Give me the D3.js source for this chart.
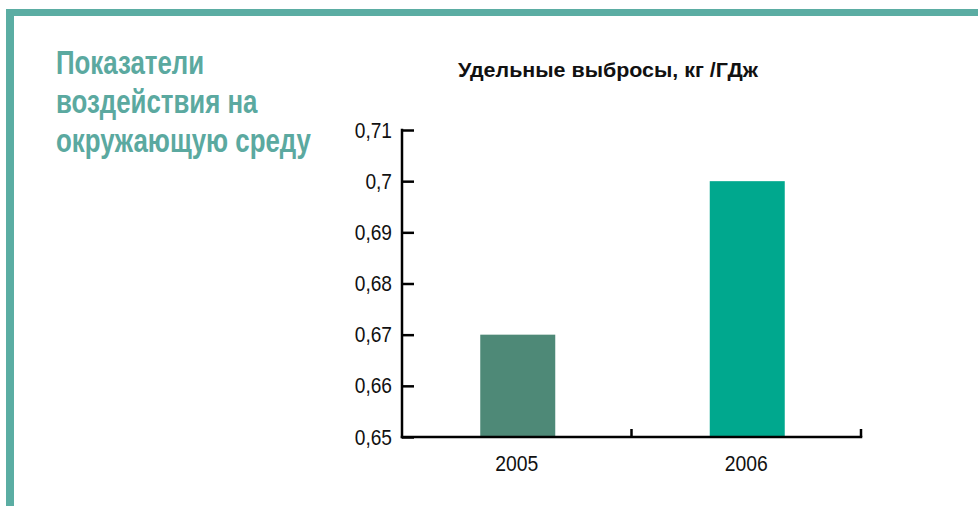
<!DOCTYPE html>
<html><head><meta charset="utf-8">
<script src="https://cdn.jsdelivr.net/npm/d3@7"></script>
<style>html,body{margin:0;padding:0;background:#fff;}</style>
</head><body>
<svg id="c" width="978" height="506"></svg>
<script>
const categories = ["2005", "2006"];
const values = [0.67, 0.70];
const barColors = ["#4E8977", "#00A88E"];
const yTicks = [0.65, 0.66, 0.67, 0.68, 0.69, 0.70, 0.71];
const titleLines = ["Показатели", "воздействия на", "окружающую среду"];
const chartTitle = "Удельные выбросы, кг /ГДж";

const svg = d3.select("#c");
const teal = "#5BADA3";
const font = "'Liberation Sans',Arial,sans-serif";

function squeeze(sel, factor) {
  sel.each(function () {
    const w = this.getComputedTextLength();
    d3.select(this).attr("textLength", w * factor).attr("lengthAdjust", "spacingAndGlyphs");
  });
}

// frame
svg.append("rect").attr("x", 6).attr("y", 9).attr("width", 972).attr("height", 7).attr("fill", teal);
svg.append("rect").attr("x", 6).attr("y", 9).attr("width", 8).attr("height", 497).attr("fill", teal);

// left heading (condensed via horizontal scale)
const hg = svg.append("g");
const head = hg.selectAll("text").data(titleLines).join("text")
  .attr("x", 0).attr("y", (d, i) => 74 + i * 39)
  .attr("fill", "#5BA9A0")
  .style("font-family", font)
  .style("font-weight", "bold").style("font-size", "33.5px")
  .text(d => d);
const hw = head.nodes()[2].getComputedTextLength();
hg.attr("transform", `translate(56,0) scale(${255 / hw},1)`);

// chart title
const tg = svg.append("g");
const t = tg.append("text").attr("x", 0).attr("y", 77)
  .style("font-family", font)
  .style("font-weight", "bold").style("font-size", "21px").attr("fill", "#111")
  .text(chartTitle);
tg.attr("transform", `translate(458,0) scale(${300 / t.node().getComputedTextLength()},1)`);

const x0 = 402, x1 = 861, yTop = 130, yBot = 437;
const x = d3.scaleBand().domain(categories).range([x0, x1]).padding(0);
const y = d3.scaleLinear().domain([0.65, 0.71]).range([yBot, yTop]);

// bars
const bw = 75;
svg.append("g").selectAll("rect").data(categories).join("rect")
  .attr("x", (d) => x(d) + x.bandwidth() / 2 - bw / 2 + 1)
  .attr("width", bw)
  .attr("y", (d, i) => y(values[i]))
  .attr("height", (d, i) => y(0.65) - y(values[i]))
  .attr("fill", (d, i) => barColors[i]);

// y axis
const yAxis = d3.axisLeft(y).tickValues(yTicks).tickSize(-12).tickPadding(10)
  .tickFormat(v => String(+v.toFixed(2)).replace(".", ","));
const gy = svg.append("g").attr("transform", `translate(${x0},0)`).call(yAxis);
gy.select(".domain").remove();
gy.selectAll(".tick line").attr("stroke", "#000").attr("stroke-width", 2.5);
gy.selectAll("text").style("font-family", font).style("font-size", "22px").attr("fill", "#111");
squeeze(gy.selectAll("text"), 0.87);
svg.append("line").attr("x1", x0).attr("x2", x0).attr("y1", yTop - 1.25).attr("y2", yBot + 1.25)
  .attr("stroke", "#000").attr("stroke-width", 2.5);

// x axis
const xAxis = d3.axisBottom(x).tickSize(0).tickPadding(18);
const gx = svg.append("g").attr("transform", `translate(0,${yBot})`).call(xAxis);
gx.select(".domain").remove();
gx.selectAll("text").style("font-family", font).style("font-size", "22px").attr("fill", "#111");
squeeze(gx.selectAll("text"), 0.88);
svg.append("line").attr("x1", x0 - 1.25).attr("x2", x1 + 1.25).attr("y1", yBot).attr("y2", yBot)
  .attr("stroke", "#000").attr("stroke-width", 2.5);
svg.append("g").selectAll("line").data(categories).join("line")
  .attr("x1", d => x(d) + x.bandwidth()).attr("x2", d => x(d) + x.bandwidth())
  .attr("y1", yBot).attr("y2", yBot - 8)
  .attr("stroke", "#000").attr("stroke-width", 2.5);
</script>
</body></html>
